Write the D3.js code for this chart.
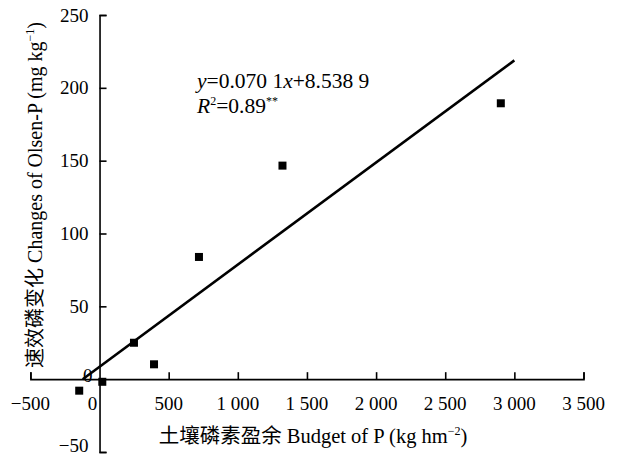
<!DOCTYPE html>
<meta charset="utf-8">
<style>
body { margin: 0; background: #fff; }
text { font-family: "Liberation Serif", "Times New Roman", "Noto Sans CJK SC", serif; fill: #000; }
.axis path, .axis line { stroke: #000; stroke-width: 1.6px; }
.fit { stroke: #000; stroke-width: 2.6px; fill: none; }
.pt { fill: #000; }
</style>
<body>
<script src="https://cdn.jsdelivr.net/npm/d3@7"></script>
<script>

// data
var budgetP = [-147, 20, 249, 394, 719, 1323, 2902];
var olsenP  = [-7.9, -1.8, 25, 10.2, 83.9, 146.6, 189.4];

// fitted line y = 0.070 1x + 8.538 9, drawn across this x range
var fitCoef = [0.0701, 8.5389];
var fitRange = [-122, 3000];

var xTicks = [-500, 0, 500, 1000, 1500, 2000, 2500, 3000, 3500];
var yTicks = [-50, 0, 50, 100, 150, 200, 250];

var W = 621, H = 457;

var svg = d3.select("body").append("svg")
    .attr("width", W)
    .attr("height", H);

var x = d3.scaleLinear().domain([-500, 3500]).range([30.4, 583.5]);
var y = d3.scaleLinear().domain([-50, 250]).range([452, 15]);

// number format with a space as thousands separator and a real minus sign
var fmt = function(d) {
  var s = d3.format(",")(Math.abs(d)).replace(/,/g, " ");
  return (d < 0 ? "\u2212" : "") + s;
};

// x axis sits on y = 0, ticks pointing up
var gx = svg.append("g")
    .attr("class", "axis")
    .attr("transform", "translate(0," + y(0) + ")")
    .call(d3.axisTop(x).tickValues(xTicks).tickSize(7).tickSizeOuter(7).tickFormat(""));

gx.selectAll(".tick").filter(function(d) { return d === 0; }).remove();

svg.append("g").selectAll("text")
    .data(xTicks)
  .enter().append("text")
    .attr("x", function(d) { return x(d) + (d === 0 ? -7 : 0); })
    .attr("y", y(0) + 31)
    .attr("text-anchor", "middle")
    .style("font-size", "19px")
    .text(fmt);

// y axis sits on x = 0, ticks pointing right
var gy = svg.append("g")
    .attr("class", "axis")
    .attr("transform", "translate(" + x(0) + ",0)")
    .call(d3.axisRight(y).tickValues(yTicks).tickSize(7).tickSizeOuter(7).tickFormat(""));

gy.selectAll(".tick").filter(function(d) { return d === 0; }).remove();

svg.append("g").selectAll("text")
    .data(yTicks)
  .enter().append("text")
    .attr("x", function(d) { return d === 0 ? x(0) - 7 : x(0) - 11; })
    .attr("y", function(d) { return y(d) + (d === 0 ? -4 : d === -50 ? -7 : 0); })
    .attr("dy", "0.35em")
    .attr("text-anchor", "end")
    .style("font-size", "19px")
    .text(fmt);

// regression line
svg.append("line")
    .attr("class", "fit")
    .attr("x1", x(fitRange[0]))
    .attr("y1", y(fitCoef[0] * fitRange[0] + fitCoef[1]))
    .attr("x2", x(fitRange[1]))
    .attr("y2", y(fitCoef[0] * fitRange[1] + fitCoef[1]));

// points
var pts = budgetP.map(function(d, i) { return {b: d, o: olsenP[i]}; });
svg.selectAll(".pt")
    .data(pts)
  .enter().append("rect")
    .attr("class", "pt")
    .attr("x", function(d) { return x(d.b) - 4; })
    .attr("y", function(d) { return y(d.o) - 4; })
    .attr("width", 8)
    .attr("height", 8);

// equation
var eq = svg.append("text")
    .attr("x", 197)
    .attr("y", 88)
    .style("font-size", "21.5px");
eq.append("tspan").style("font-style", "italic").text("y");
eq.append("tspan").text("=0.070 1");
eq.append("tspan").style("font-style", "italic").text("x");
eq.append("tspan").text("+8.538 9");

var r2 = svg.append("text")
    .attr("x", 197)
    .attr("y", 113)
    .style("font-size", "21.5px");
r2.append("tspan").style("font-style", "italic").text("R");
r2.append("tspan").attr("dy", -8).style("font-size", "12px").text("2");
r2.append("tspan").attr("dy", 8).text("=0.89");
r2.append("tspan").attr("dy", -8).style("font-size", "12px").text("**");

// axis titles
var xt = svg.append("text")
    .attr("x", 313)
    .attr("y", 443)
    .attr("text-anchor", "middle")
    .style("font-size", "20.5px");
xt.append("tspan").text("土壤磷素盈余 Budget of P (kg hm");
xt.append("tspan").attr("dy", -8).style("font-size", "12px").text("\u22122");
xt.append("tspan").attr("dy", 8).text(")");

var yt = svg.append("text")
    .attr("transform", "translate(42,195) rotate(-90)")
    .attr("text-anchor", "middle")
    .style("font-size", "20px");
yt.append("tspan").text("速效磷变化 Changes of Olsen-P (mg kg");
yt.append("tspan").attr("dy", -8).style("font-size", "12px").text("\u22121");
yt.append("tspan").attr("dy", 8).text(")");

</script>
</body>
